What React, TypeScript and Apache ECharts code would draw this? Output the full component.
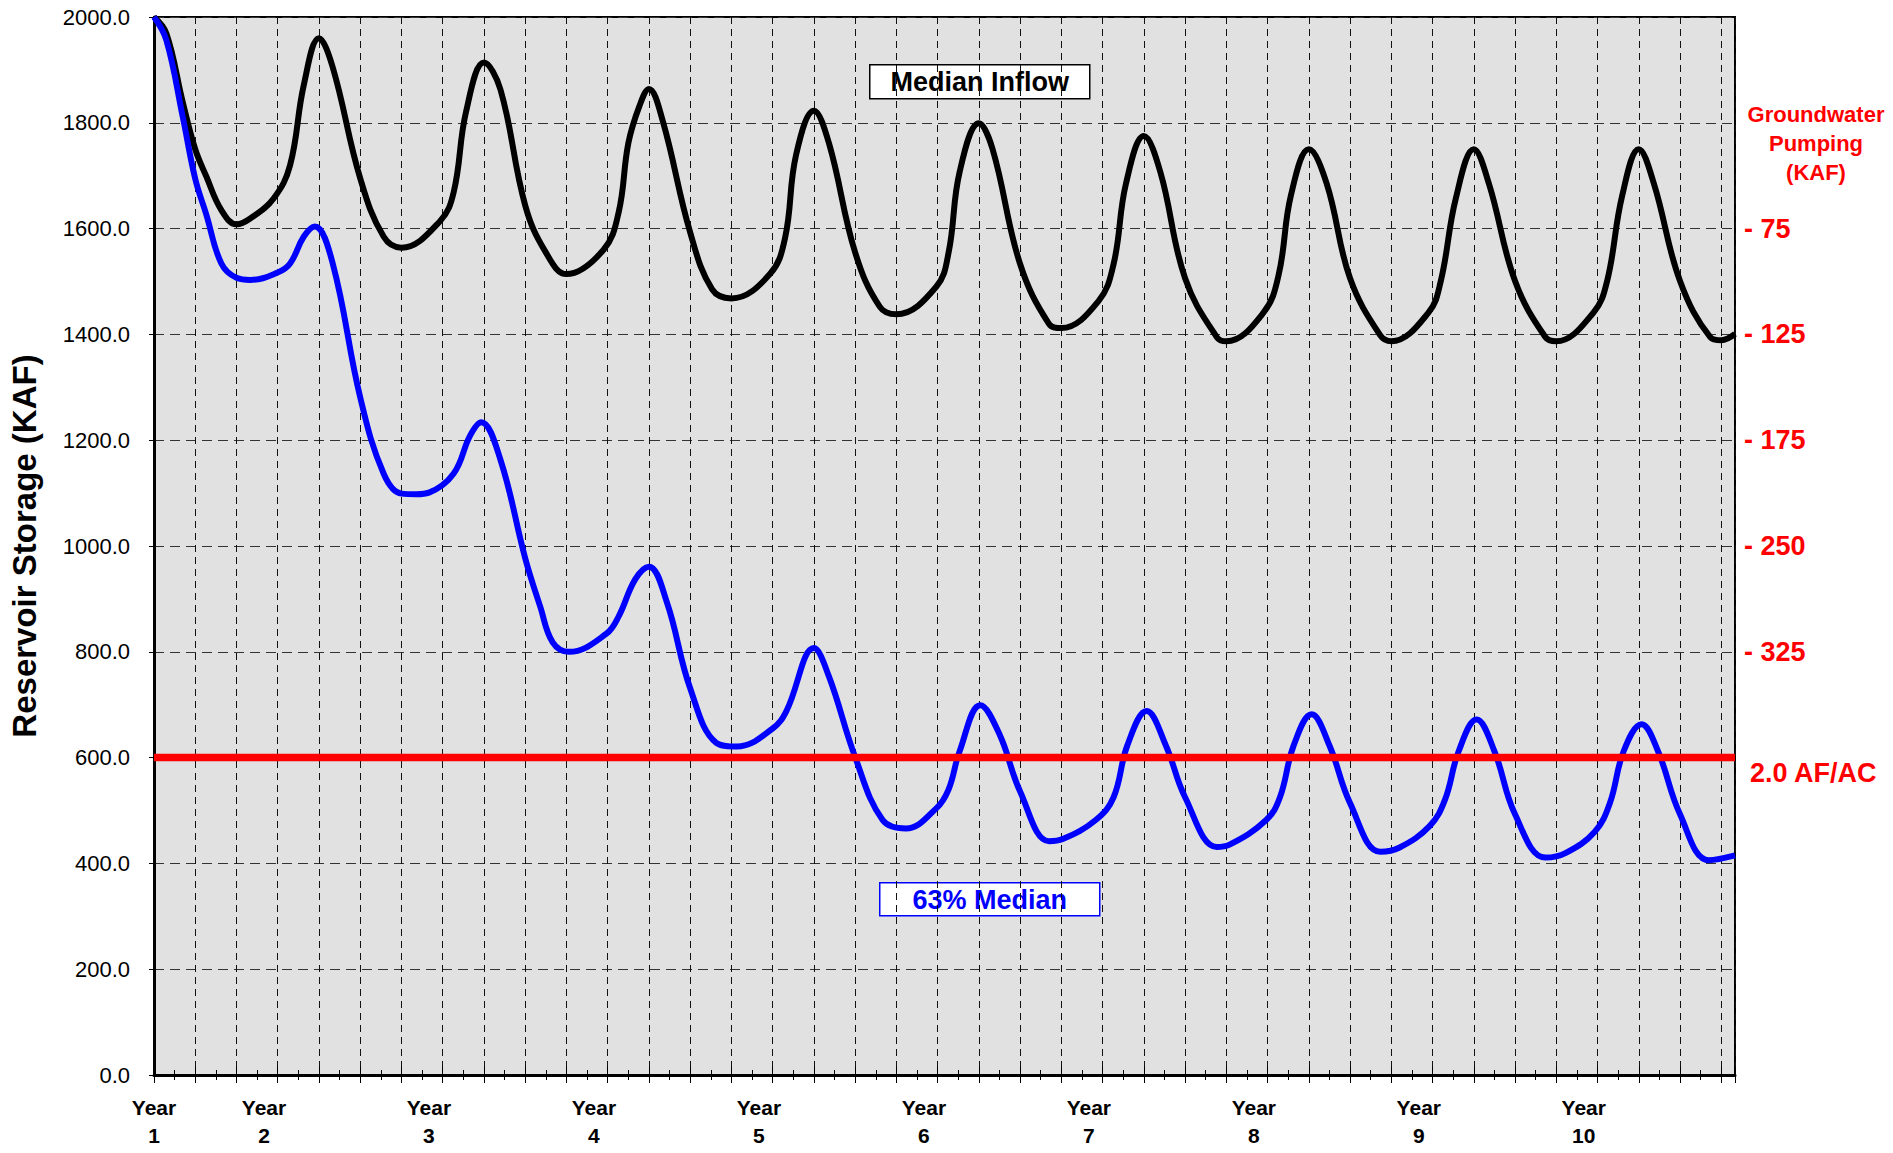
import React, { useEffect, useRef } from "react";
import * as echarts from "echarts";

// x = month from start of Year 1, y = reservoir storage (KAF)
const medianInflow: [number, number][] = [
  [0, 2000], [0.9, 1969], [2.1, 1838], [3, 1750], [3.8, 1699], [4.9, 1635], [6, 1608], [7, 1619],
  [8.7, 1657], [9.9, 1720], [10.9, 1872], [12, 1960],
  [13, 1905], [15, 1695], [16.7, 1585], [18, 1564], [20.8, 1614], [21.8, 1669], [22.7, 1821], [24, 1914],
  [25.2, 1863], [27, 1644], [28.5, 1555], [30, 1514], [32.7, 1560], [33.8, 1631], [34.5, 1761], [35.3, 1831], [36, 1864],
  [37, 1804], [39, 1593], [40.6, 1485], [42, 1468], [44.8, 1514], [45.9, 1582], [46.7, 1739], [48, 1823],
  [49.1, 1761], [51, 1555], [52.8, 1452], [54, 1438], [56.9, 1490], [57.8, 1555], [58.6, 1707], [60, 1799],
  [61, 1750], [63, 1533], [65.1, 1420], [66, 1412], [68.7, 1463], [69.8, 1533], [70.7, 1685], [72, 1775],
  [73.2, 1707], [75, 1506], [77.3, 1395], [78, 1387], [80.7, 1441], [81.8, 1512], [82.7, 1663], [84, 1750],
  [85.3, 1685], [87, 1506], [89.2, 1398], [90, 1387], [92.7, 1441], [93.6, 1501], [94.7, 1658], [96, 1750],
  [97.1, 1685], [99, 1501], [101.2, 1395], [102, 1387], [104.7, 1441], [105.7, 1501], [106.8, 1663], [108, 1750],
  [109.1, 1685], [111, 1501], [113.2, 1395], [114, 1389], [115, 1401],
];

const median63: [number, number][] = [
  [0, 2000], [0.9, 1956], [2.1, 1810], [3, 1694], [3.8, 1627], [4.9, 1534], [6, 1507], [7, 1503],
  [9, 1517], [9.9, 1534], [10.9, 1585], [11.7, 1604],
  [13, 1534], [15, 1281], [16.7, 1137], [18, 1099], [19.1, 1098], [20, 1101], [21.8, 1137], [23, 1209], [23.8, 1234],
  [25.2, 1163], [27, 977], [28.1, 885], [29, 818], [30.2, 800], [32.9, 834], [33.8, 867], [35, 937], [36, 961],
  [37.3, 894], [39, 731], [40.9, 628], [42.4, 621], [45, 655], [46, 688], [48, 807],
  [49.1, 753], [51, 601], [53, 482], [54.7, 466], [56.9, 504], [57.8, 540], [58.6, 612], [60.1, 699],
  [61.5, 644], [63, 536], [65.1, 442], [66.1, 446], [68.5, 482], [69.8, 525], [70.8, 623], [72.2, 688],
  [73.6, 623], [75, 525], [77.3, 431], [78.2, 435], [80.9, 482], [81.9, 525], [82.9, 623], [84.2, 682],
  [85.5, 623], [87, 514], [89.2, 422], [90.6, 430], [92.8, 471], [93.9, 520], [94.9, 612], [96.2, 672],
  [97.5, 612], [99, 493], [101.2, 411], [102.7, 420], [104.8, 460], [105.9, 514], [106.9, 612], [108.2, 663],
  [109.4, 612], [111, 493], [113.1, 406], [115, 415],
];

const thresholdLevel = 600;
const thresholdLabel = "2.0 AF/AC";

const yearLabelMonths = [0, 8, 20, 32, 44, 56, 68, 80, 92, 104];
const yearLabelNames = ["1", "2", "3", "4", "5", "6", "7", "8", "9", "10"];

const pumpingLevels = [1600, 1400, 1200, 1000, 800];
const pumpingLabels = ["- 75", "- 125", "- 175", "- 250", "- 325"];

const X_MAX = 115;
const FONT = '"Liberation Sans", Arial, Helvetica, sans-serif';

export default function App() {
  const ref = useRef<HTMLDivElement>(null);

  useEffect(() => {
    if (!ref.current) return;
    const chart = echarts.init(ref.current, null, { renderer: "svg" });

    const xBase = {
      type: "value" as const,
      min: 0,
      max: X_MAX,
      interval: 3,
      gridIndex: 0,
      position: "bottom" as const,
    };

    const option: any = {
      animation: false,
      backgroundColor: "#ffffff",
      textStyle: { fontFamily: FONT },
      grid: {
        left: 153,
        right: 158,
        top: 17,
        bottom: 78,
        show: true,
        backgroundColor: "#e1e1e1",
        borderColor: "#000000",
        borderWidth: 2,
      },
      xAxis: [
        {
          ...xBase,
          axisLine: { show: true, onZero: false, lineStyle: { color: "#000", width: 3 } },
          axisTick: { show: true, inside: false, length: 8, lineStyle: { color: "#000", width: 1 } },
          minorTick: { show: true, splitNumber: 2, length: 5, lineStyle: { color: "#000", width: 1 } },
          splitLine: { show: true, lineStyle: { color: "#111", width: 1, type: [7, 5] } },
          axisLabel: {
            show: true,
            customValues: yearLabelMonths,
            formatter: (v: number) => {
              const i = yearLabelMonths.indexOf(Math.round(v));
              return i >= 0 ? `Year\n${yearLabelNames[i]}` : "";
            },
            color: "#000",
            fontFamily: FONT,
            fontSize: 21,
            fontWeight: "bold",
            lineHeight: 28,
            margin: 18,
          },
        },
        {
          ...xBase,
          axisLine: { show: false },
          axisTick: { show: true, inside: true, length: 8, lineStyle: { color: "#000", width: 1 } },
          minorTick: { show: true, splitNumber: 2, length: 5, lineStyle: { color: "#000", width: 1 } },
          splitLine: { show: false },
          axisLabel: { show: false },
        },
      ],
      yAxis: [
        {
          type: "value",
          min: 0,
          max: 2000,
          interval: 200,
          position: "left",
          axisLine: { show: true, lineStyle: { color: "#000", width: 3 } },
          axisTick: { show: true, length: 5, lineStyle: { color: "#000", width: 1 } },
          splitLine: { show: true, lineStyle: { color: "#333", width: 1, type: [10, 6] } },
          axisLabel: {
            formatter: (v: number) => v.toFixed(1),
            color: "#000",
            fontFamily: FONT,
            fontSize: 22,
            margin: 24,
          },
          name: "Reservoir Storage (KAF)",
          nameLocation: "middle",
          nameGap: 113,
          nameTextStyle: { color: "#000", fontFamily: FONT, fontSize: 33, fontWeight: "bold" },
        },
        {
          type: "value",
          min: 0,
          max: 2000,
          interval: 200,
          position: "right",
          axisLine: { show: false },
          axisTick: { show: false },
          splitLine: { show: false },
          axisLabel: {
            formatter: (v: number) => {
              const i = pumpingLevels.indexOf(v);
              return i >= 0 ? pumpingLabels[i] : "";
            },
            color: "#ff0000",
            fontFamily: FONT,
            fontSize: 27,
            fontWeight: "bold",
            margin: 9,
          },
        },
      ],
      series: [
        {
          name: "Median Inflow",
          type: "line",
          xAxisIndex: 0,
          yAxisIndex: 0,
          data: medianInflow,
          smooth: 0.4,
          showSymbol: false,
          lineStyle: { color: "#000000", width: 6 },
          z: 3,
        },
        {
          name: "63% Median",
          type: "line",
          xAxisIndex: 0,
          yAxisIndex: 0,
          data: median63,
          smooth: 0.4,
          showSymbol: false,
          lineStyle: { color: "#0000ff", width: 6 },
          z: 3,
        },
        {
          name: thresholdLabel,
          type: "line",
          xAxisIndex: 0,
          yAxisIndex: 0,
          data: [
            [0, thresholdLevel],
            [X_MAX, thresholdLevel],
          ],
          showSymbol: false,
          lineStyle: { color: "#ff0000", width: 7.5 },
          z: 4,
          endLabel: {
            show: true,
            formatter: thresholdLabel,
            color: "#ff0000",
            fontFamily: FONT,
            fontSize: 27,
            fontWeight: "bold",
            distance: 15,
            offset: [0, 15],
          },
        },
      ],
      graphic: [
        {
          type: "group",
          left: 869,
          top: 64,
          children: [
            {
              type: "rect",
              shape: { x: 0, y: 0, width: 220, height: 34 },
              style: { fill: "#ffffff", stroke: "#000000", lineWidth: 1.5 },
            },
            {
              type: "text",
              x: 110,
              y: 17,
              style: {
                text: "Median Inflow",
                fill: "#000",
                font: `bold 27px ${FONT}`,
                textAlign: "center",
                textVerticalAlign: "middle",
              },
            },
          ],
        },
        {
          type: "group",
          left: 879,
          top: 882,
          children: [
            {
              type: "rect",
              shape: { x: 0, y: 0, width: 220, height: 33 },
              style: { fill: "#ffffff", stroke: "#0000ff", lineWidth: 1.5 },
            },
            {
              type: "text",
              x: 110,
              y: 17,
              style: {
                text: "63% Median",
                fill: "#0000ff",
                font: `bold 27px ${FONT}`,
                textAlign: "center",
                textVerticalAlign: "middle",
              },
            },
          ],
        },
        {
          type: "text",
          x: 1816,
          y: 100,
          style: {
            text: "Groundwater\nPumping\n(KAF)",
            fill: "#ff0000",
            font: `bold 22px ${FONT}`,
            lineHeight: 29,
            textAlign: "center",
            textVerticalAlign: "top",
          },
        },
      ],
    };

    chart.setOption(option);
    return () => chart.dispose();
  }, []);

  return (
    <div
      ref={ref}
      style={{ position: "fixed", left: 0, top: 0, width: 1893, height: 1153, background: "#fff" }}
    />
  );
}
